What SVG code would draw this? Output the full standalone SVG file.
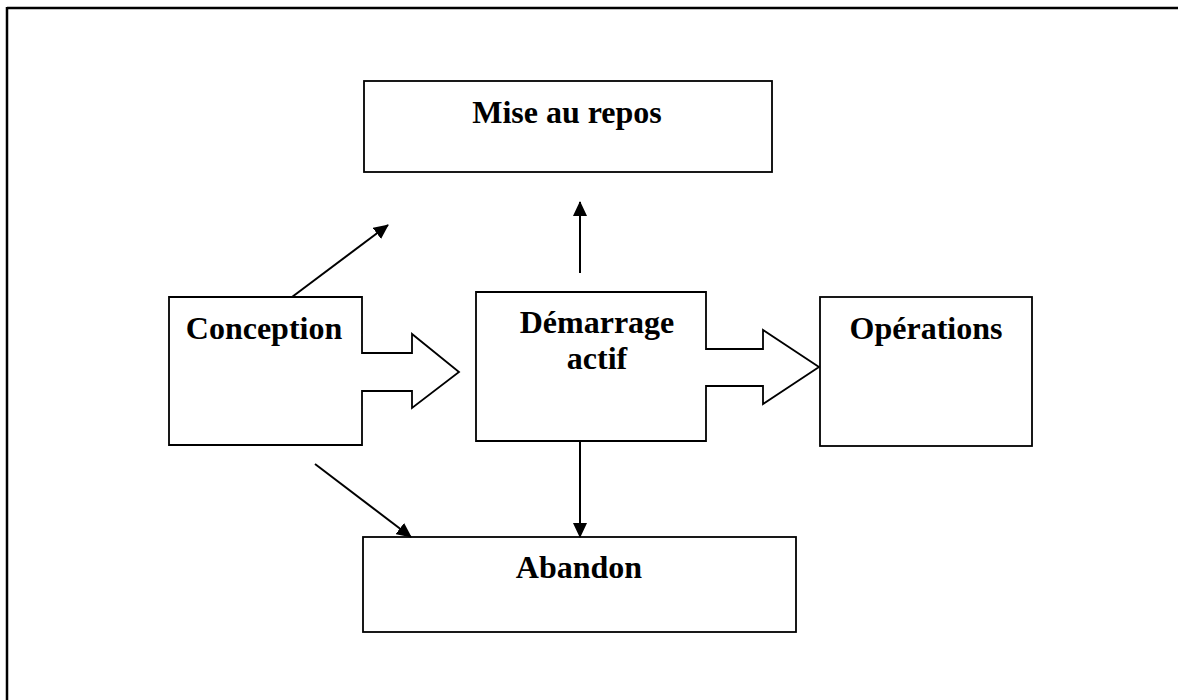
<svg xmlns="http://www.w3.org/2000/svg" width="1178" height="700" viewBox="0 0 1178 700">
<style>
.box{fill:#fff;stroke:#000;stroke-width:1.8}
.lbl{font-family:"Liberation Serif","Times New Roman",serif;font-weight:bold;font-size:32px;fill:#000;text-anchor:middle}
.con{stroke:#000;stroke-width:2;fill:none}
</style>
<defs>
<marker id="ah" viewBox="0 0 15 14" refX="14" refY="7" markerWidth="15" markerHeight="14" markerUnits="userSpaceOnUse" orient="auto">
<path d="M0,0 L15,7 L0,14 z" fill="#000"/>
</marker>
</defs>
<rect width="1178" height="700" fill="#fff"/>
<g id="frame">
<line x1="7" y1="8" x2="1178" y2="8" stroke="#000" stroke-width="2.5"/>
<line x1="7" y1="7" x2="7" y2="700" stroke="#000" stroke-width="2.5"/>
</g>
<g id="mise">
<rect class="box" x="364" y="81" width="408" height="91"/>
<text class="lbl" x="567" y="123">Mise au repos</text>
</g>
<g id="conception">
<path class="box" d="M169,297 H362 V353 H412 V334 L459,372 L412,408 V391 H362 V445 H169 Z"/>
<text class="lbl" x="264" y="339">Conception</text>
</g>
<g id="demarrage">
<path class="box" d="M476,292 H706 V349 H763 V330 L819,367 L763,404 V386 H706 V441 H476 Z"/>
<text class="lbl" x="597" y="333">Démarrage</text>
<text class="lbl" x="597" y="369">actif</text>
</g>
<g id="operations">
<rect class="box" x="820" y="297" width="212" height="149"/>
<text class="lbl" x="926" y="339">Opérations</text>
</g>
<g id="abandon">
<rect class="box" x="363" y="537" width="433" height="95"/>
<text class="lbl" x="579" y="578">Abandon</text>
</g>
<g id="connectors">
<line class="con" x1="292" y1="297" x2="388" y2="225" marker-end="url(#ah)"/>
<line class="con" x1="580" y1="273" x2="580" y2="202" marker-end="url(#ah)"/>
<line class="con" x1="315" y1="464" x2="411" y2="537" marker-end="url(#ah)"/>
<line class="con" x1="580" y1="442" x2="580" y2="537" marker-end="url(#ah)"/>
</g>
</svg>
